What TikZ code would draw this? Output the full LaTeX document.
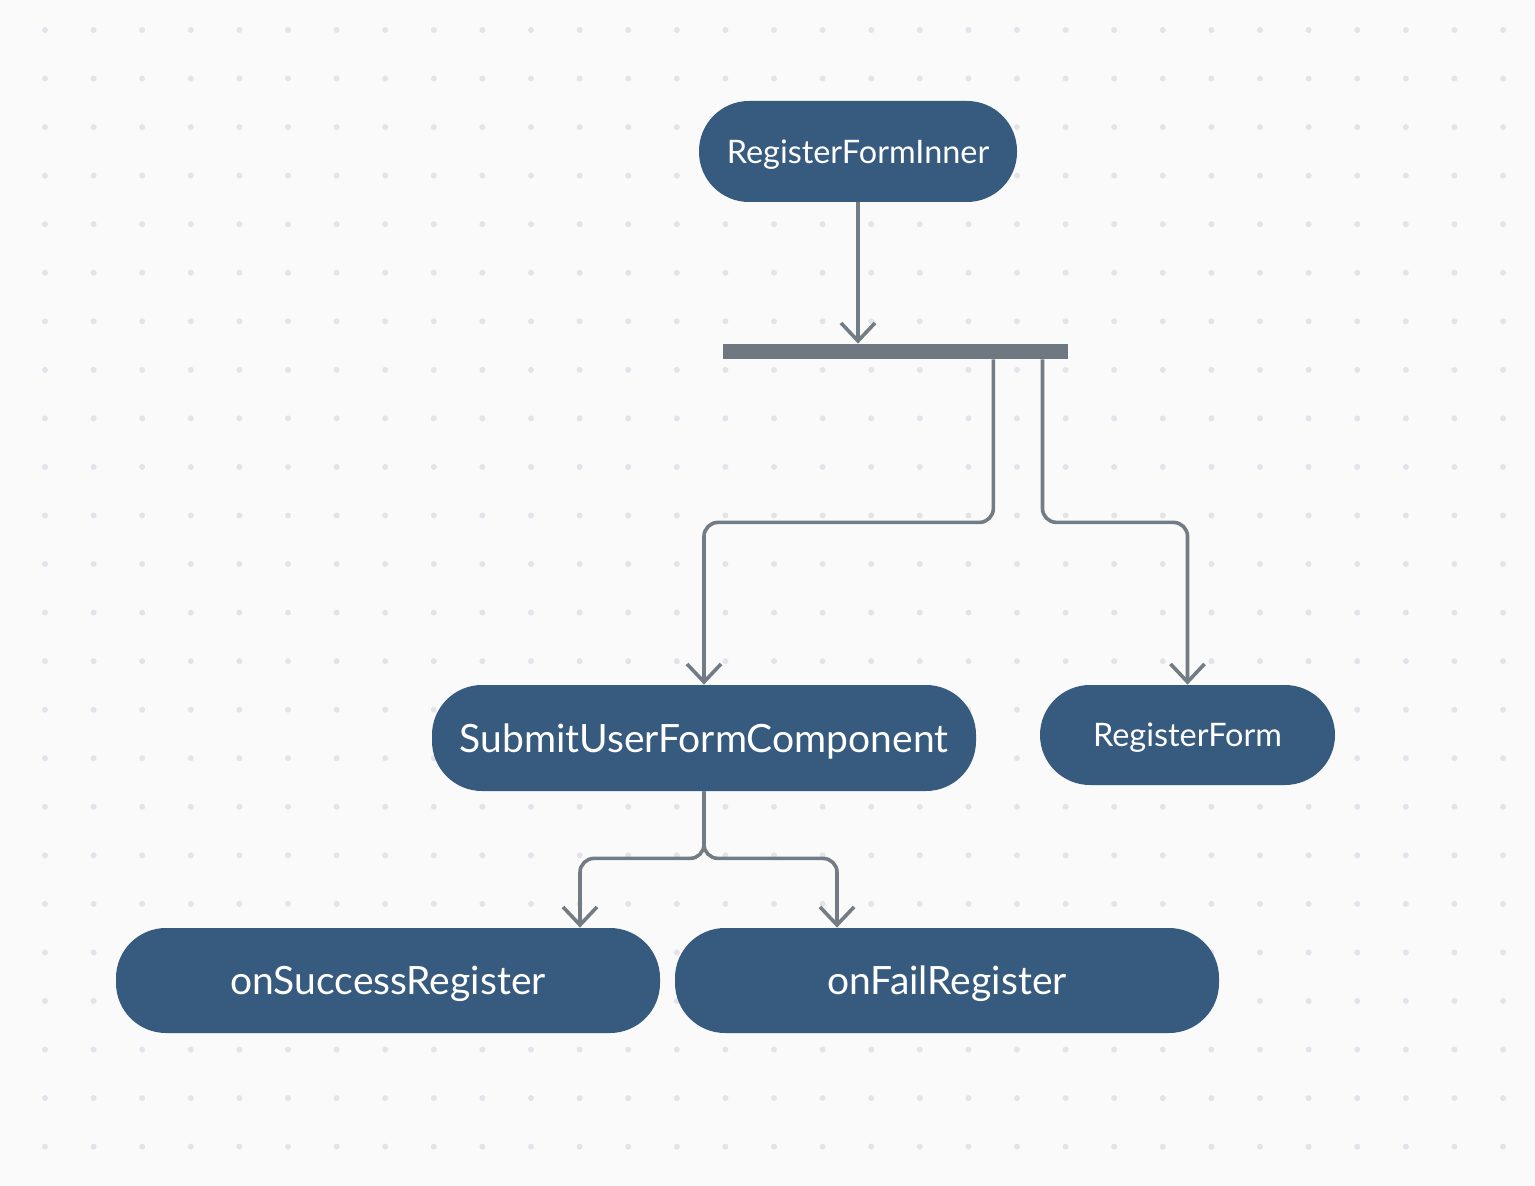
\documentclass[tikz,border=0pt]{standalone}
\usepackage{fontspec}
\setmainfont{Lato}
\usetikzlibrary{arrows.meta, positioning, calc}
\definecolor{flowblue}{HTML}{375A7F}
\definecolor{flowgray}{HTML}{737C84}
\definecolor{bargray}{HTML}{6F7880}
\definecolor{paper}{HTML}{FAFAFB}
\definecolor{dotgray}{HTML}{E2E4E9}

\begin{document}
\begin{tikzpicture}[
  x=0.5pt, y=-0.5pt,
  comp/.style={
    rectangle, rounded corners=25pt,
    inner sep=0pt, text depth=0pt,
    fill=flowblue, text=white
  },
  bigtext/.style={font=\fontsize{19.5}{22}\selectfont},
  smalltext/.style={font=\fontsize{16.2}{18}\selectfont},
  link/.style={line width=1.8pt, flowgray, rounded corners=7pt,
    -{Straight Barb[length=9pt, width=17pt]}}
]
  % Dotted canvas
  \fill[paper] (0,0) rectangle (1535,1186);
  \foreach \i in {0,...,30}
    \foreach \j in {0,...,23}
      \fill[dotgray] (45+48.6*\i, 30+48.55*\j) circle (1.5pt);

  % Components
  \node[comp, smalltext, minimum width=159pt, minimum height=50.5pt] (inner) at (858,151.5) {RegisterFormInner};
  \node[fill=bargray, inner sep=0pt, minimum width=172.5pt, minimum height=7.5pt] (fork) at (895.5,351.5) {};
  \node[comp, bigtext, minimum width=272pt, minimum height=53pt] (submit) at (704,738) {SubmitUserFormComponent};
  \node[comp, smalltext, minimum width=147.5pt, minimum height=50pt] (regform) at (1187.5,735) {RegisterForm};
  \node[comp, bigtext, minimum width=272pt, minimum height=52.5pt] (success) at (388,980.5) {onSuccessRegister};
  \node[comp, bigtext, minimum width=272pt, minimum height=52.5pt] (fail) at (947,980.5) {onFailRegister};

  % Fork outlets
  \coordinate (forkL) at ($(fork.south west)!0.783!(fork.south east)$);
  \coordinate (forkR) at ($(fork.south west)!0.925!(fork.south east)$);

  % Connectors
  \draw[link] (inner.south) -- (inner.south |- fork.north);
  \draw[link] (forkL) -- ++(0,163) -| (submit.north);
  \draw[link] (forkR) -- ++(0,163) -| (regform.north);
  \draw[link] (submit.south) -- ++(0,67) -| ($(success.north)+(192,0)$);
  \draw[link] (submit.south) -- ++(0,67) -| ($(fail.north)+(-110,0)$);
\end{tikzpicture}
\end{document}
